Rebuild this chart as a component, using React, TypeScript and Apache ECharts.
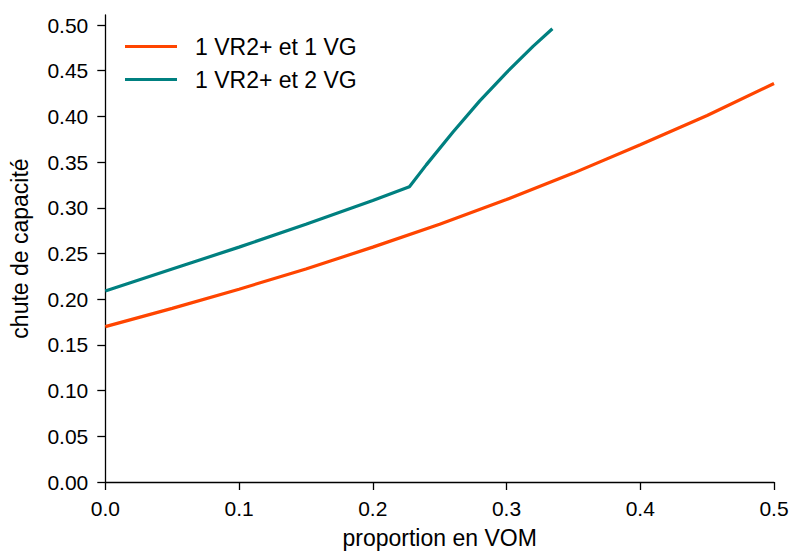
import React, { useEffect, useRef } from "react";
import * as echarts from "echarts";

const seriesNames = ["1 VR2+ et 1 VG", "1 VR2+ et 2 VG"];
const seriesColors = ["#ff4500", "#008080"];

const orangeX = [0, 0.05, 0.1, 0.15, 0.2, 0.25, 0.3, 0.35, 0.4, 0.45, 0.5];
const orangeY = [0.170, 0.190, 0.211, 0.233, 0.257, 0.282, 0.309, 0.338, 0.369, 0.401, 0.436];

const tealX = [0, 0.05, 0.1, 0.15, 0.2, 0.2274, 0.24, 0.26, 0.28, 0.3, 0.32, 0.3343];
const tealY = [0.209, 0.233, 0.257, 0.282, 0.308, 0.323, 0.347, 0.383, 0.417, 0.448, 0.477, 0.496];

const yTicks = [0, 0.05, 0.1, 0.15, 0.2, 0.25, 0.3, 0.35, 0.4, 0.45, 0.5];
const xTicks = [0, 0.1, 0.2, 0.3, 0.4, 0.5];

const FONT = "'Liberation Sans', Arial, Helvetica, sans-serif";

export default function App() {
  const ref = useRef<HTMLDivElement>(null);
  useEffect(() => {
    if (!ref.current) return;
    const chart = echarts.init(ref.current, null, { renderer: "svg" });
    const axisLine = { show: true, lineStyle: { color: "#000", width: 1.3 } };
    const axisTick = { show: true, length: 8, inside: false, lineStyle: { color: "#000", width: 1.3 } };
    chart.setOption({
      animation: false,
      backgroundColor: "#fff",
      textStyle: { fontFamily: FONT },
      grid: {
        left: 105.3,
        right: 20,
        top: 15,
        bottom: 70,
        containLabel: false,
        outerBoundsMode: "none",
      },
      legend: {
        show: true,
        orient: "vertical",
        left: 120,
        top: 30,
        icon: "rect",
        itemWidth: 52,
        itemHeight: 3,
        itemGap: 10,
        data: seriesNames,
        textStyle: { fontSize: 23, color: "#000", fontFamily: FONT, padding: [0, 0, 0, 13] },
      },
      xAxis: {
        type: "value",
        min: 0,
        max: 0.5,
        interval: 0.1,
        name: "proportion en VOM",
        nameLocation: "middle",
        nameGap: 44,
        nameTextStyle: { fontSize: 23, color: "#000", fontFamily: FONT },
        axisLine,
        axisTick,
        splitLine: { show: false },
        axisLabel: {
          fontSize: 21,
          color: "#000",
          fontFamily: FONT,
          margin: 16,
          customValues: xTicks,
          formatter: (v: number) => v.toFixed(1),
        },
      },
      yAxis: {
        type: "value",
        min: 0,
        max: 0.511,
        name: "chute de capacité",
        nameLocation: "middle",
        nameGap: 74,
        nameTextStyle: { fontSize: 23, color: "#000", fontFamily: FONT },
        axisLine,
        axisTick: { ...axisTick, customValues: yTicks },
        splitLine: { show: false },
        axisLabel: {
          fontSize: 21,
          color: "#000",
          fontFamily: FONT,
          margin: 17,
          customValues: yTicks,
          formatter: (v: number) => v.toFixed(2),
        },
      },
      series: [
        {
          name: seriesNames[0],
          type: "line",
          data: orangeX.map((x, i) => [x, orangeY[i]]),
          symbol: "none",
          smooth: false,
          lineStyle: { color: seriesColors[0], width: 3.2 },
          itemStyle: { color: seriesColors[0] },
        },
        {
          name: seriesNames[1],
          type: "line",
          data: tealX.map((x, i) => [x, tealY[i]]),
          symbol: "none",
          smooth: false,
          lineStyle: { color: seriesColors[1], width: 3.2 },
          itemStyle: { color: seriesColors[1] },
        },
      ],
    });
    return () => chart.dispose();
  }, []);
  return (
    <div
      ref={ref}
      style={{ position: "fixed", left: 0, top: 0, width: 794, height: 552 }}
    />
  );
}
